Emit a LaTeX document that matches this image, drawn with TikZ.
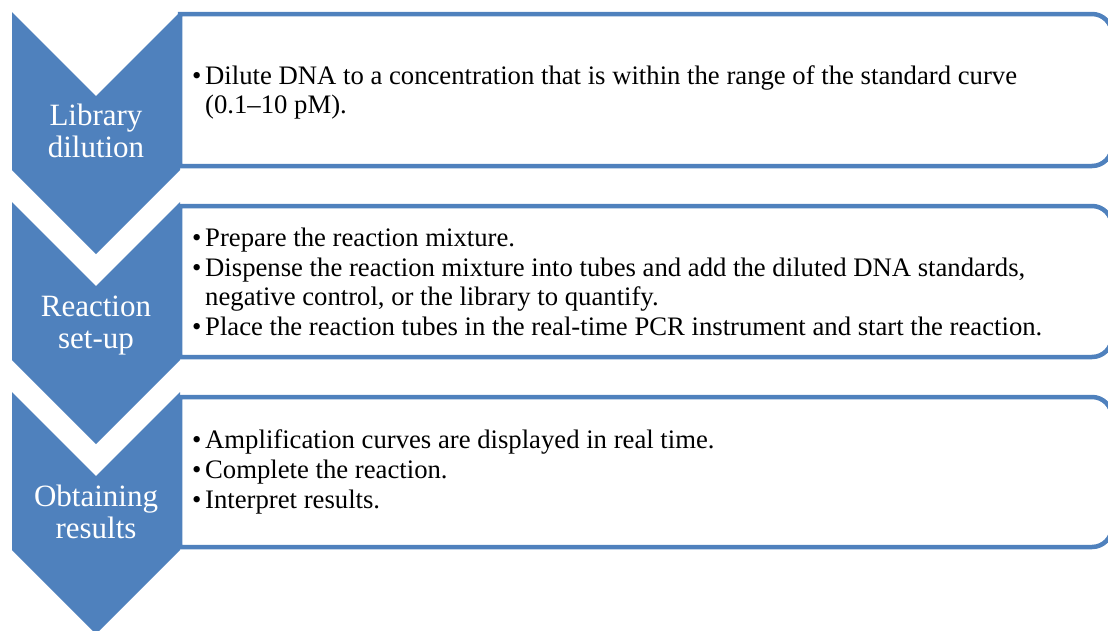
\documentclass[tikz,border=0pt]{standalone}
\usepackage{fontspec}
\setmainfont{Liberation Serif}
\usepackage{tikz}
\usetikzlibrary{calc}

\definecolor{stepblue}{RGB}{79,129,189}

\newcommand{\bul}{\makebox[13pt][l]{\textbullet}}
\newcommand{\cont}{\hspace*{13pt}}

\begin{document}
\begin{tikzpicture}[x=1pt,y=-1pt]
    \def\chevw{168}
    \def\chevh{158}
    \def\notch{84}
    \def\cardr{1112}

    \tikzset{
        chev/.style={fill=stepblue, draw=none},
        card/.style={draw=stepblue, line width=4.5pt, fill=white},
        chevtext/.style={text=white, align=center, inner sep=0pt, anchor=base,
            font=\fontsize{31}{31.5}\selectfont},
        cardtext/.style={align=left, inner sep=0pt, anchor=base west,
            font=\fontsize{26.7}{28.5}\selectfont}
    }

    \clip (0,0) rectangle (1108,630);

    % Top left corners of the chevrons
    \coordinate (C1) at (12,12);
    \coordinate (C2) at (12,202);
    \coordinate (C3) at (12,392);

    % Cards
    \draw[card] (180,90) -- (180,14) -- (600,14) [rounded corners=20pt] -- (\cardr,14) -- (\cardr,166) -- (600,166) [sharp corners] -- (180,166) -- cycle;
    \draw[card] (180,280) -- (180,206) -- (600,206) [rounded corners=20pt] -- (\cardr,206) -- (\cardr,357) -- (600,357) [sharp corners] -- (180,357) -- cycle;
    \draw[card] (180,470) -- (180,397) -- (600,397) [rounded corners=20pt] -- (\cardr,397) -- (\cardr,547) -- (600,547) [sharp corners] -- (180,547) -- cycle;

    % Chevrons
    \fill[chev] (C1) -- ($(C1)+(\chevw/2,\notch)$) -- ($(C1)+(\chevw,0)$) -- ($(C1)+(\chevw,\chevh)$) -- ($(C1)+(\chevw/2,\chevh+\notch)$) -- ($(C1)+(0,\chevh)$) -- cycle;
    \fill[chev] (C2) -- ($(C2)+(\chevw/2,\notch)$) -- ($(C2)+(\chevw,0)$) -- ($(C2)+(\chevw,\chevh)$) -- ($(C2)+(\chevw/2,\chevh+\notch)$) -- ($(C2)+(0,\chevh)$) -- cycle;
    \fill[chev] (C3) -- ($(C3)+(\chevw/2,\notch)$) -- ($(C3)+(\chevw,0)$) -- ($(C3)+(\chevw,\chevh)$) -- ($(C3)+(\chevw/2,\chevh+\notch)$) -- ($(C3)+(0,\chevh)$) -- cycle;

    % Step names (anchored at the last baseline)
    \node[chevtext] (lib) at (96,157) {Library\\dilution};
    \node[chevtext] (react) at (96,348) {Reaction\\set-up};
    \node[chevtext] (obtain) at (96,538) {Obtaining\\results};

    % Step contents (anchored at the last baseline)
    \node[cardtext] (lib-text) at (192,113) {\bul Dilute DNA to a concentration that is within the range of the standard curve\\\cont(0.1--10 pM).};
    \node[cardtext] (react-text) at (192,335) {\bul Prepare the reaction mixture.\\[1.5pt]
        \bul Dispense the reaction mixture into tubes and add the diluted DNA standards,\\\cont negative control, or the library to quantify.\\[1.5pt]
        \bul Place the reaction tubes in the real-time PCR instrument and start the reaction.};
    \node[cardtext] (obtain-text) at (192,508) {\bul Amplification curves are displayed in real time.\\[1.5pt]
        \bul Complete the reaction.\\[1.5pt]
        \bul Interpret results.};

\end{tikzpicture}
\end{document}
